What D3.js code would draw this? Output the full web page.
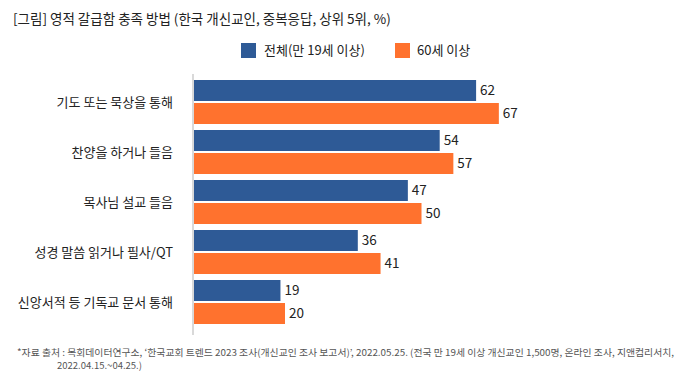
<!DOCTYPE html>
<html><head><meta charset="utf-8">
<script src="https://cdn.jsdelivr.net/npm/d3@7"></script>
<style>
html,body{margin:0;padding:0;background:#fff;}
svg{display:block;font-family:"Noto Sans CJK KR","Noto Sans",sans-serif;}
</style></head>
<body><svg id="c" width="681" height="383"></svg>
<script>
const title = "[그림] 영적 갈급함 충족 방법 (한국 개신교인, 중복응답, 상위 5위, %)";
const categories = ["기도 또는 묵상을 통해","찬양을 하거나 들음","목사님 설교 들음","성경 말씀 읽거나 필사/QT","신앙서적 등 기독교 문서 통해"];
const seriesNames = ["전체(만 19세 이상)","60세 이상"];
const seriesAll = [62,54,47,36,19];
const series60 = [67,57,50,41,20];
const colors = ["#2e5a96","#ff722e"];
const footLines = ["*자료 출처 : 목회데이터연구소, ‘한국교회 트렌드 2023 조사(개신교인 조사 보고서)’, 2022.05.25. (전국 만 19세 이상 개신교인 1,500명, 온라인 조사, 지앤컴리서치,",
"2022.04.15.~04.25.)"];

const svg = d3.select("#c");
const x0 = 194;
const x = d3.scaleLinear().domain([0,100]).range([0,455]);
const y = d3.scaleBand().domain(categories).range([77,327]).paddingInner(0.12).paddingOuter(0.06);
const ys = d3.scaleBand().domain([0,1]).range([0,y.bandwidth()]).paddingInner(2/23);

svg.append("text").attr("x",13).attr("y",24).attr("font-size",13.5).attr("fill","#222").text(title);

// legend
const leg = [{x:241,tx:264},{x:395,tx:417}];
seriesNames.forEach((n,i)=>{
  svg.append("rect").attr("x",leg[i].x).attr("y",43).attr("width",15).attr("height",15).attr("fill",colors[i]);
  svg.append("text").attr("x",leg[i].tx).attr("y",55).attr("font-size",13).attr("fill","#222").text(n);
});

// axis line
svg.append("line").attr("x1",193).attr("x2",193).attr("y1",74).attr("y2",335).attr("stroke","#ccc").attr("stroke-width",1.5);

const data = [seriesAll, series60];
categories.forEach((c,ci)=>{
  data.forEach((arr,si)=>{
    const yy = y(c)+ys(si);
    svg.append("rect").attr("x",x0).attr("y",yy).attr("width",x(arr[ci])).attr("height",ys.bandwidth()).attr("fill",colors[si]);
    svg.append("text").attr("x",x0+x(arr[ci])+4).attr("y",yy+ys.bandwidth()/2).attr("dy","0.36em")
      .attr("font-size",13.5).attr("fill","#222").text(arr[ci]);
  });
  svg.append("text").attr("x",173).attr("y",y(c)+y.bandwidth()/2).attr("dy","0.36em").attr("text-anchor","end")
    .attr("font-size",13).attr("fill","#222").text(c);
});

svg.append("text").attr("x",17).attr("y",356).attr("font-size",9.5).attr("fill","#555")
  .attr("textLength",657).attr("lengthAdjust","spacingAndGlyphs").text(footLines[0]);
svg.append("text").attr("x",57).attr("y",369).attr("font-size",9.5).attr("fill","#555").text(footLines[1]);
</script></body></html>
